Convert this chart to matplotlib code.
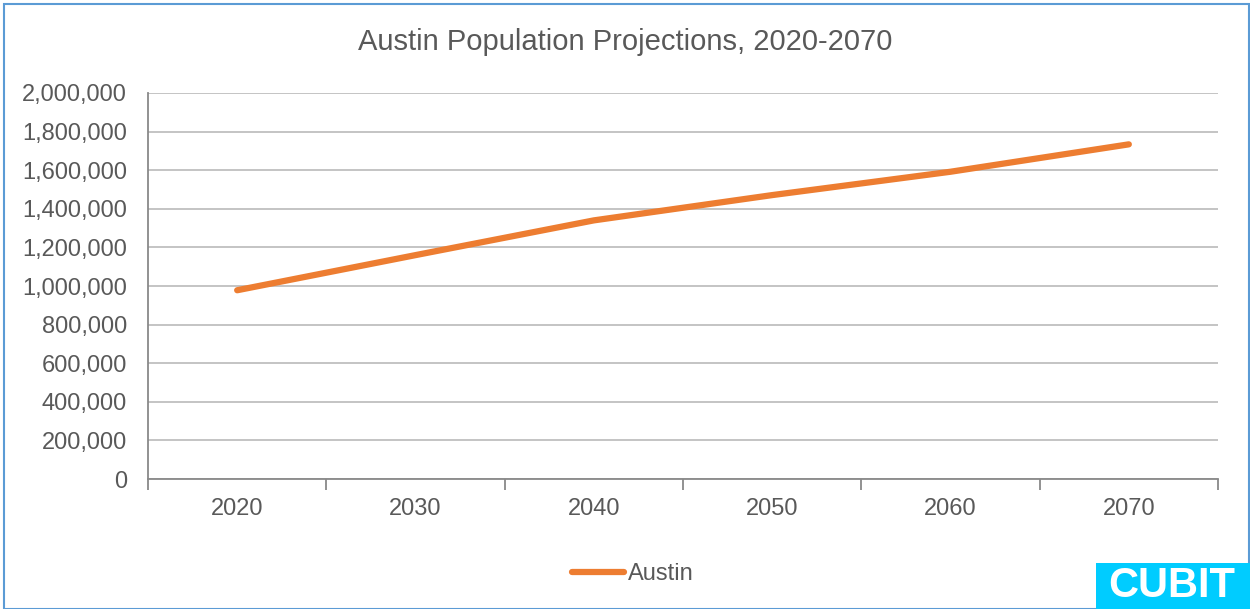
import matplotlib.pyplot as plt
from matplotlib.patches import Rectangle
from matplotlib.ticker import FuncFormatter, FixedLocator

plt.rcParams['font.family'] = ['Liberation Sans', 'DejaVu Sans']

# data
years = ['2020', '2030', '2040', '2050', '2060', '2070']
austin = [978000, 1160000, 1340000, 1471000, 1592000, 1734000]

text_col = '#595959'
grid_col = '#BFBFBF'
orange = '#ED7D31'

fig = plt.figure(figsize=(12.5, 6.09), dpi=100)
ax = fig.add_axes([148 / 1250, 1 - 479 / 609, (1218 - 148) / 1250, (479 - 93) / 609])

x = list(range(len(years)))
ax.plot(x, austin, color=orange, linewidth=4.5, solid_capstyle='round', label='Austin')

ax.set_xlim(-0.5, len(years) - 0.5)
ax.set_ylim(0, 2000000)
ax.set_yticks(range(0, 2000001, 200000))
ax.yaxis.set_major_formatter(FuncFormatter(lambda v, p: f'{int(v):,}'))
ax.set_xticks(x)
ax.set_xticklabels(years)
ax.xaxis.set_minor_locator(FixedLocator([i - 0.5 for i in range(len(years) + 1)]))

ax.grid(axis='y', color=grid_col, linewidth=1.3)
ax.set_axisbelow(True)
for s in ['top', 'right']:
    ax.spines[s].set_visible(False)
ax.spines['left'].set_color('#898989')
ax.spines['bottom'].set_color('#898989')
ax.spines['left'].set_linewidth(1.3)
ax.spines['bottom'].set_linewidth(1.3)

ax.tick_params(axis='y', length=0, pad=15, labelsize=17, labelcolor=text_col)
ax.tick_params(axis='x', which='major', length=0, pad=14, labelsize=17, labelcolor=text_col)
ax.tick_params(axis='x', which='minor', length=8, width=1.3, color='#898989')

fig.text(0.5, 1 - 42 / 609, 'Austin Population Projections, 2020-2070',
         ha='center', va='center', fontsize=21, color=text_col)

fig.legend(loc='center', bbox_to_anchor=(633 / 1250, 1 - 574 / 609), frameon=False,
           fontsize=17, labelcolor=text_col, handlelength=2.2, handletextpad=0.15)

# outer frame
fig.patches.append(Rectangle((4 / 1250, 0), 1 - 5 / 1250, 1 - 4 / 609, transform=fig.transFigure,
                             fill=False, edgecolor='#5B9BD5', linewidth=1.5))
# badge
fig.patches.append(Rectangle((1096 / 1250, 0), 154 / 1250, 46 / 609, transform=fig.transFigure,
                             facecolor='#00CCFF', edgecolor='none'))
fig.text(1172 / 1250, 1 - 586 / 609, 'CUBIT', ha='center', va='center',
         fontsize=30, fontweight='bold', color='white')

fig.savefig('out.png', dpi=100)
